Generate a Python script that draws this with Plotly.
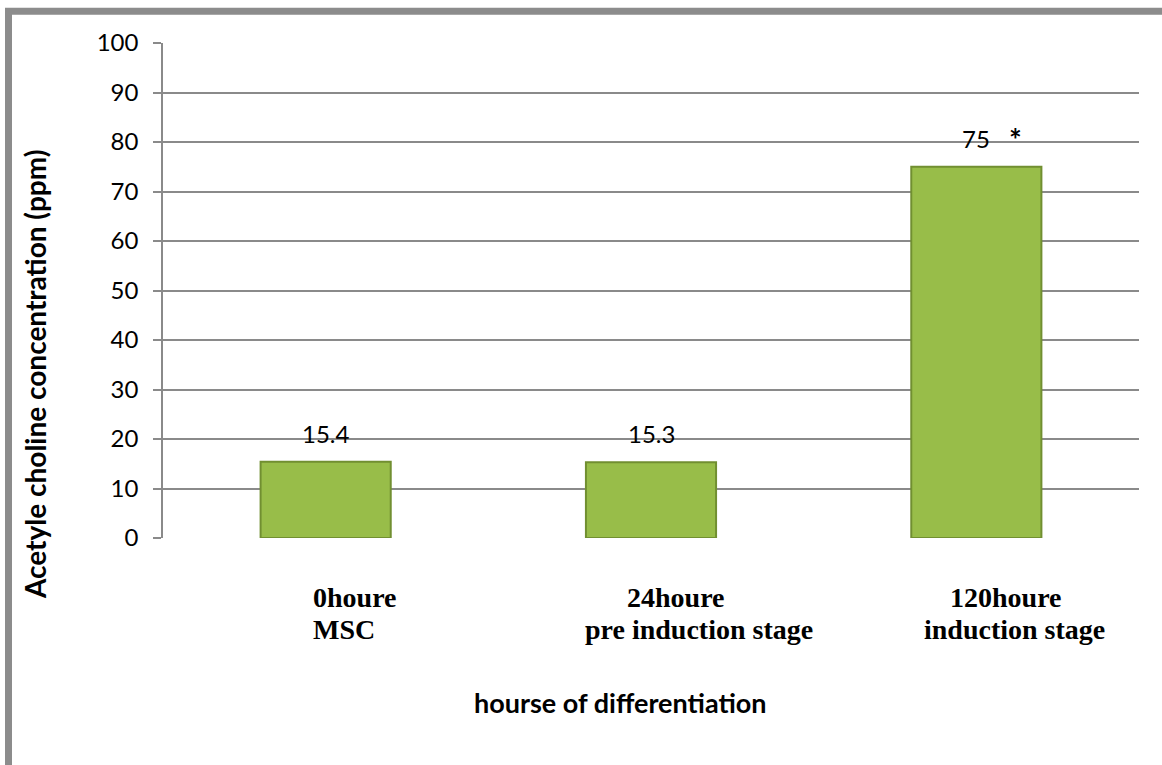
import plotly.graph_objects as go

# Acetylcholine concentration measured at each differentiation time point
categories = ["0h", "24h", "120h"]
values = [15.4, 15.3, 75]
significance = ["", "", "*"]
label_line1 = ["0houre", "24houre", "120houre"]
label_line2 = ["MSC", "pre induction stage", "induction stage"]
y_ticks = list(range(0, 101, 10))

# layout geometry (pixels)
W, H = 1162, 765
M_L, M_R, M_T, M_B = 163, 23, 43, 227
PW, PH = W - M_L - M_R, H - M_T - M_B

GRID = "#8a8a8a"
SANS = "Lato, 'Open Sans', sans-serif"
SERIF = "'Liberation Serif', 'Times New Roman', serif"


def px_x(px):
    return (px - M_L) / PW


def px_y(py):
    return (H - M_B - py) / PH


fig = go.Figure()
fig.add_trace(go.Bar(
    x=categories, y=values, width=0.40,
    marker=dict(color="#98bd49", line=dict(color="#718f31", width=2)),
    hoverinfo="x+y", showlegend=False,
))

annotations = []
# value labels above bars
for c, v, s in zip(categories, values, significance):
    annotations.append(dict(
        x=c, y=v, xref="x", yref="y", text=f"{v:g}", showarrow=False,
        yanchor="bottom", yshift=12, font=dict(family=SANS, size=24, color="black"),
    ))
    if s:
        annotations.append(dict(
            x=c, y=v, xref="x", yref="y", text=f"<b>{s}</b>", showarrow=False,
            yanchor="bottom", xshift=39, yshift=8,
            font=dict(family=SANS, size=30, color="black"),
        ))

# two-line category captions under the axis
line1_left = [-15, -26, -28]
line2_left = [-15, -68, -54]
for c, t1, t2, d1, d2 in zip(categories, label_line1, label_line2, line1_left, line2_left):
    annotations.append(dict(
        x=c, y=0, xref="x", yref="paper", text=f"<b>{t1}</b>", showarrow=False,
        xanchor="left", yanchor="middle", xshift=d1, yshift=-59,
        font=dict(family=SERIF, size=28, color="black"),
    ))
    annotations.append(dict(
        x=c, y=0, xref="x", yref="paper", text=f"<b>{t2}</b>", showarrow=False,
        xanchor="left", yanchor="middle", xshift=d2, yshift=-91,
        font=dict(family=SERIF, size=28, color="black"),
    ))

# axis titles
annotations.append(dict(
    x=px_x(620), y=px_y(702), xref="paper", yref="paper",
    text="<b>hourse of differentiation</b>", showarrow=False,
    xanchor="center", yanchor="middle", font=dict(family=SANS, size=27, color="black"),
))
annotations.append(dict(
    x=px_x(35), y=px_y(375), xref="paper", yref="paper",
    text="<b>Acetyle choline concentration (ppm)</b>", showarrow=False, textangle=-90,
    xanchor="center", yanchor="middle", font=dict(family=SANS, size=28, color="black"),
))

# outer frame of the chart area
shapes = [dict(
    type="rect", xref="paper", yref="paper",
    x0=px_x(8.5), x1=px_x(1175), y0=px_y(780), y1=px_y(11.3),
    line=dict(color="#8c8c8c", width=7), fillcolor="rgba(0,0,0,0)", layer="below",
)]

fig.update_layout(
    width=W, height=H,
    margin=dict(l=M_L, r=M_R, t=M_T, b=M_B, pad=0),
    paper_bgcolor="white", plot_bgcolor="white",
    bargap=0.6,
    annotations=annotations, shapes=shapes,
    xaxis=dict(
        showticklabels=False, ticks="", showgrid=False, zeroline=False,
        showline=False, fixedrange=True,
    ),
    yaxis=dict(
        range=[0, 100], tickvals=y_ticks, ticks="outside", ticklen=8, tickwidth=1.5,
        tickcolor=GRID, showgrid=True, gridcolor=GRID, gridwidth=1.5,
        showline=True, linecolor=GRID, linewidth=1.5, zeroline=False,
        ticklabelstandoff=10,
        tickfont=dict(family=SANS, size=24, color="black"),
    ),
)

fig.write_html("out.html")
